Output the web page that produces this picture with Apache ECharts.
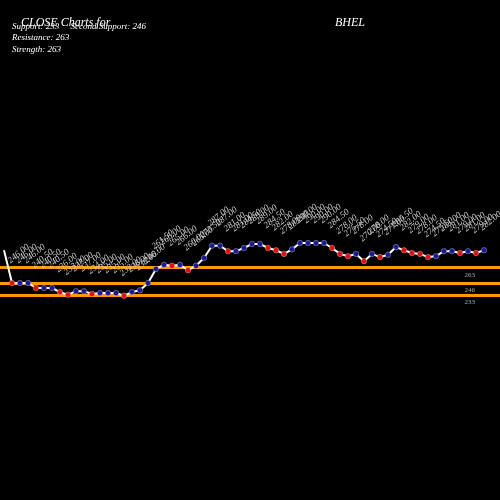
<!DOCTYPE html>
<html>
<head>
<meta charset="UTF-8">
<script src="https://cdn.jsdelivr.net/npm/echarts@6/dist/echarts.min.js"></script>
<style>
*{margin:0;padding:0}
html,body{width:100%;height:100%;background:#000}
#c{width:500px;height:500px}
</style>
</head>
<body>
<div id="c"></div>
<script>
var closes=[282,246,246,246,240.5,240.5,240.5,236,233,237,237,234,235,235,235,232,236,238,246,261.5,266,265,266,260,265,273.5,287,287,281,281,284.5,
289,289,284.5,282,278,283,290,290,290,290,284.5,278,275.5,278,270,278,274.5,277,285.5,282,279,278,274.5,275.5,281,281,279,281,279,282];
var levels=[263,246,233];

var pts=[];
for(var i=0;i<closes.length;i++){
    var up=i==0||closes[i]>=closes[i-1];
    pts.push({
        value:[i,closes[i]],
        symbolSize:i==0?0:5.5,
        label:{show:i>0},
        itemStyle:{color:up?'#1a1a99':'#e01010',borderColor:'#fff',borderWidth:0.3}
    })
}
var chart=echarts.init(document.getElementById('c'));
chart.setOption({
    backgroundColor:'#000',
    animation:false,
    grid:{left:0,right:0,top:0,bottom:0},
    xAxis:{type:'value',min:-0.5,max:62,show:false},
    yAxis:{type:'value',min:7.3,max:557.3,show:false},
    title:[
        {text:'CLOSE Charts for',left:16,top:12,textStyle:{color:'#fff',fontFamily:'Liberation Serif',fontStyle:'italic',fontWeight:'normal',fontSize:12}},
        {text:'BHEL',left:330,top:12,textStyle:{color:'#fff',fontFamily:'Liberation Serif',fontStyle:'italic',fontWeight:'normal',fontSize:12}}
    ],
    graphic:[
        {type:'text',left:12,top:22,style:{text:'Support: 233     Second Support: 246',fill:'#fff',font:'italic 9px Liberation Serif'}},
        {type:'text',left:12,top:33,style:{text:'Resistance: 263',fill:'#fff',font:'italic 9px Liberation Serif'}},
        {type:'text',left:12,top:45,style:{text:'Strength: 263',fill:'#fff',font:'italic 9px Liberation Serif'}}
    ],
    series:[{
        type:'line',
        z:1,
        data:[],
        markLine:{
            silent:true,symbol:'none',
            lineStyle:{color:'#ff9900',width:3,type:'solid'},
            label:{show:true,position:'insideEndBottom',formatter:'{c}',color:'#aaa',fontSize:7,fontFamily:'Liberation Serif',distance:[25,4]},
            data:levels.map(function(v){return {yAxis:v}})
        }
    },{
        type:'line',
        z:5,
        data:pts,
        symbol:'circle',
        lineStyle:{color:'#fff',width:2},
        label:{show:true,formatter:function(p){return p.value[1].toFixed(2)},rotate:40,color:'#ccc',fontSize:9,fontFamily:'Liberation Serif',fontStyle:'italic',position:'top',distance:15,align:'left'},
        labelLayout:{hideOverlap:false}
    }]
});
</script>
</body>
</html>
